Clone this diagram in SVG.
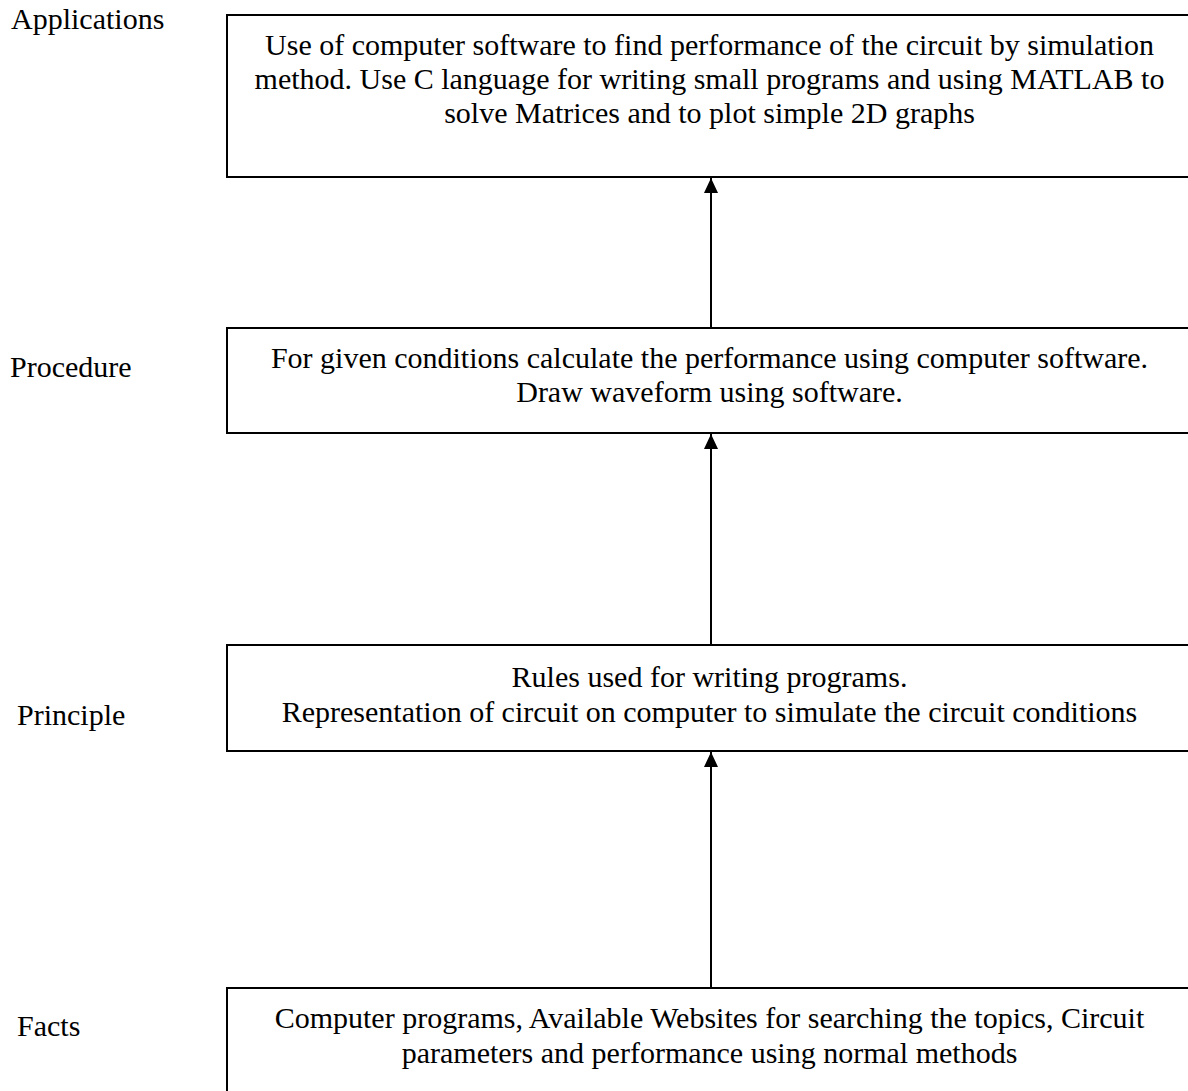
<svg xmlns="http://www.w3.org/2000/svg" width="1188" height="1091" viewBox="0 0 1188 1091">
<style>
text{font-family:"Liberation Serif","Times New Roman",serif;font-size:30px;fill:#000}
.c{text-anchor:middle}
.box{fill:#fff;stroke:#000;stroke-width:2}
.conn{stroke:#000;stroke-width:2;fill:none}
</style>
<defs>
<marker id="ah" markerUnits="userSpaceOnUse" markerWidth="16" markerHeight="16" refX="15" refY="7" orient="auto">
<path d="M0,0 L15,7 L0,14 Z" fill="#000"/>
</marker>
</defs>
<rect width="1188" height="1091" fill="#fff"/>
<g id="labels">
<text x="11" y="29">Applications</text>
<text x="10" y="377">Procedure</text>
<text x="17" y="725">Principle</text>
<text x="17" y="1036">Facts</text>
</g>
<g id="applications">
<rect class="box" x="227" y="15" width="966" height="162"/>
<text class="c" x="709.5" y="55">Use of computer software to find performance of the circuit by simulation</text>
<text class="c" x="709.5" y="89">method. Use C language for writing small programs and using MATLAB to</text>
<text class="c" x="709.5" y="123">solve Matrices and to plot simple 2D graphs</text>
</g>
<g id="procedure">
<rect class="box" x="227" y="328" width="966" height="105"/>
<text class="c" x="709.5" y="368">For given conditions calculate the performance using computer software.</text>
<text class="c" x="709.5" y="402">Draw waveform using software.</text>
</g>
<g id="principle">
<rect class="box" x="227" y="645" width="966" height="106"/>
<text class="c" x="709.5" y="687">Rules used for writing programs.</text>
<text class="c" x="709.5" y="722">Representation of circuit on computer to simulate the circuit conditions</text>
</g>
<g id="facts">
<rect class="box" x="227" y="988" width="966" height="120"/>
<text class="c" x="709.5" y="1028">Computer programs, Available Websites for searching the topics, Circuit</text>
<text class="c" x="709.5" y="1063">parameters and performance using normal methods</text>
</g>
<g id="connectors">
<line class="conn" x1="711" y1="327" x2="711" y2="178" marker-end="url(#ah)"/>
<line class="conn" x1="711" y1="645" x2="711" y2="434" marker-end="url(#ah)"/>
<line class="conn" x1="711" y1="988" x2="711" y2="752" marker-end="url(#ah)"/>
</g>
</svg>
